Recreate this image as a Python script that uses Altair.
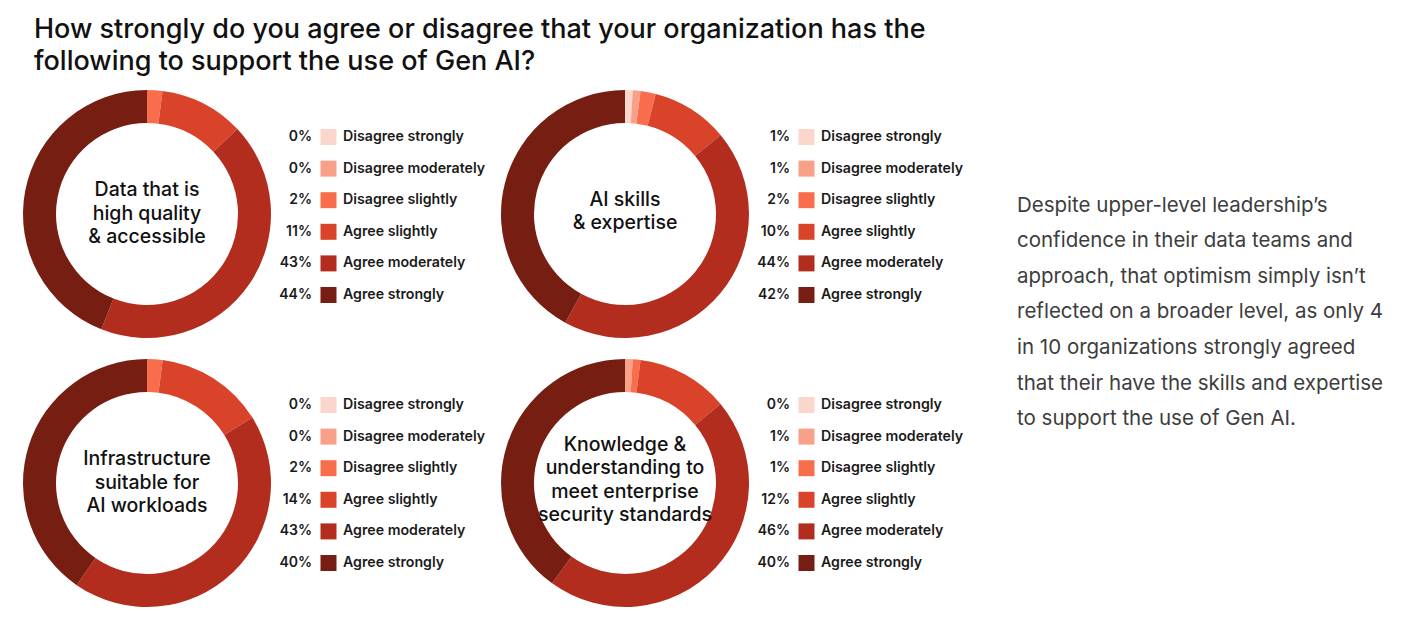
import altair as alt
import pandas as pd

# ---- data ----
categories = ["Disagree strongly", "Disagree moderately", "Disagree slightly",
              "Agree slightly", "Agree moderately", "Agree strongly"]
colors = ["#FAD6CC", "#F9A089", "#F86E4D", "#D8432A", "#B22D1D", "#771E13"]

panel_titles = [
    ["Data that is", "high quality", "& accessible"],
    ["AI skills", "& expertise"],
    ["Infrastructure", "suitable for", "AI workloads"],
    ["Knowledge &", "understanding to", "meet enterprise", "security standards"],
]
values_data_quality = [0, 0, 2, 11, 43, 44]
values_ai_skills = [1, 1, 2, 10, 44, 42]
values_infrastructure = [0, 0, 2, 14, 43, 40]
values_security = [0, 1, 1, 12, 46, 40]
panel_values = [values_data_quality, values_ai_skills, values_infrastructure, values_security]

title_lines = ["How strongly do you agree or disagree that your organization has the",
               "following to support the use of Gen AI?"]
note_lines = ["Despite upper-level leadership\u2019s",
              "confidence in their data teams and",
              "approach, that optimism simply isn\u2019t",
              "reflected on a broader level, as only 4",
              "in 10 organizations strongly agreed",
              "that their have the skills and expertise",
              "to support the use of Gen AI."]

# ---- layout (page coords minus 8px margin) ----
W, H = 1411, 612
FONT = "Inter"
centers = [(139, 206), (617, 206), (139, 475), (617, 475)]
center_dy = [-0.5, -2.5, -0.5, -3]
legend_pct_x = [304, 782, 304, 782]
legend_top = [129, 129, 397, 397]
ROW = 31.6
R_OUT, R_IN = 124, 91

color_scale = alt.Scale(domain=categories, range=colors)
layers = []

for p, (vals, (cx, cy)) in enumerate(zip(panel_values, centers)):
    df = pd.DataFrame({"cat": categories, "val": vals, "idx": list(range(6))})
    arc = alt.Chart(df).mark_arc(outerRadius=R_OUT, innerRadius=R_IN).encode(
        theta=alt.Theta("val:Q", stack="normalize", scale=alt.Scale(domain=[0, 1])),
        color=alt.Color("cat:N", scale=color_scale, legend=None),
        order=alt.Order("idx:Q"),
        x=alt.value(cx), y=alt.value(cy),
    )
    layers.append(arc)

    # center label
    lines = panel_titles[p]
    lh = 23.5
    ctr = pd.DataFrame({
        "t": lines,
        "px": [cx] * len(lines),
        "py": [cy + center_dy[p] - (len(lines) - 1) * lh / 2 + i * lh for i in range(len(lines))],
    })
    layers.append(alt.Chart(ctr).mark_text(
        font=FONT, fontSize=19.5, fontWeight=500, color="#111", align="center", baseline="middle"
    ).encode(x=alt.X("px:Q", scale=None), y=alt.Y("py:Q", scale=None), text="t:N"))

    # legend
    lx = legend_pct_x[p]
    ly = legend_top[p]
    leg = pd.DataFrame({
        "cat": categories,
        "pct": [f"{v}%" for v in vals],
        "py": [ly + i * ROW for i in range(6)],
        "px_pct": [lx] * 6,
        "px_sw": [lx + 16.5] * 6,
        "px_lab": [lx + 31] * 6,
    })
    layers.append(alt.Chart(leg).mark_square(size=256, opacity=1, filled=True).encode(
        x=alt.X("px_sw:Q", scale=None), y=alt.Y("py:Q", scale=None),
        color=alt.Color("cat:N", scale=color_scale, legend=None)))
    layers.append(alt.Chart(leg).mark_text(
        font=FONT, fontSize=14, fontWeight=600, color="#1a1a1a", align="right", baseline="middle"
    ).encode(x=alt.X("px_pct:Q", scale=None), y=alt.Y("py:Q", scale=None), text="pct:N"))
    layers.append(alt.Chart(leg).mark_text(
        font=FONT, fontSize=14.2, fontWeight=600, color="#1a1a1a", align="left", baseline="middle"
    ).encode(x=alt.X("px_lab:Q", scale=None), y=alt.Y("py:Q", scale=None), text="cat:N"))

# title
tdf = pd.DataFrame({"t": title_lines, "px": [26, 26], "py": [22, 54]})
layers.append(alt.Chart(tdf).mark_text(
    font=FONT, fontSize=27, fontWeight=500, color="#111", align="left", baseline="middle"
).encode(x=alt.X("px:Q", scale=None), y=alt.Y("py:Q", scale=None), text="t:N"))

# side note
ndf = pd.DataFrame({"t": note_lines, "px": [1009] * len(note_lines),
                    "py": [197.5 + i * 35.6 for i in range(len(note_lines))]})
layers.append(alt.Chart(ndf).mark_text(
    font=FONT, fontSize=20.5, fontWeight=400, color="#3d3d3d", align="left", baseline="middle"
).encode(x=alt.X("px:Q", scale=None), y=alt.Y("py:Q", scale=None), text="t:N"))

chart = alt.layer(*layers).properties(
    width=W, height=H, padding=0, autosize="none", background="white"
).configure_view(stroke=None)

chart.save("out.html", embed_options={"renderer": "svg", "actions": False})
